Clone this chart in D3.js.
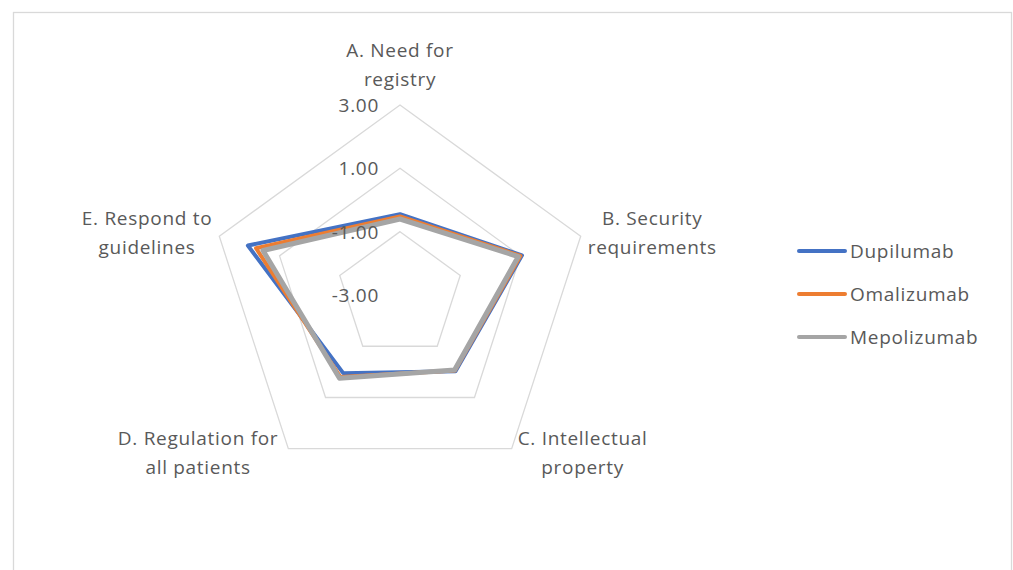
<!DOCTYPE html>
<html>
<head>
<meta charset="utf-8">
<script src="https://cdn.jsdelivr.net/npm/d3@7"></script>
<style>
  html, body { margin: 0; padding: 0; background: #fff; }
  svg text { font-family: "Open Sans", sans-serif; fill: #595959; letter-spacing: 0.7px; }
</style>
</head>
<body>
<svg id="chart" width="1013" height="570"></svg>
<script>
// ---- data ----
const categories = [
  ["A. Need for", "registry"],
  ["B. Security", "requirements"],
  ["C. Intellectual", "property"],
  ["D. Regulation for", "all patients"],
  ["E. Respond to", "guidelines"]
];
const seriesNames = ["Dupilumab", "Omalizumab", "Mepolizumab"];
const seriesColors = ["#4472C4", "#ED7D31", "#A5A5A5"];
const seriesWidths = [4, 4, 5];
const dupilumab   = [-0.45, 1.05, -0.02, 0.05, 2.05];
const omalizumab  = [-0.52, 1.00, -0.05, 0.20, 1.78];
const mepolizumab = [-0.60, 0.93, -0.07, 0.25, 1.55];
const tickValues = [-3, -1, 1, 3];
const tickLabels = ["-3.00", "-1.00", "1.00", "3.00"];

const seriesValues = [dupilumab, omalizumab, mepolizumab];

// ---- layout ----
const svg = d3.select("#chart");
const cx = 400, cy = 295, R = 190;
const r = d3.scaleLinear().domain([-3, 3]).range([0, R]);
const n = categories.length;
const angle = d3.scaleLinear().domain([0, n]).range([0, 2 * Math.PI]);
const pt = (i, v) => {
  const a = angle(i);
  return [cx + r(v) * Math.sin(a), cy - r(v) * Math.cos(a)];
};

// chart border
svg.append("rect")
  .attr("x", 13.5).attr("y", 12.5)
  .attr("width", 998).attr("height", 620)
  .attr("fill", "none").attr("stroke", "#d9d9d9").attr("stroke-width", 1.3);

// grid pentagons (skip center value)
const line = d3.line().curve(d3.curveLinearClosed);
svg.append("g").selectAll("path")
  .data(tickValues.filter(t => r(t) > 0))
  .join("path")
  .attr("d", t => line(d3.range(n).map(i => pt(i, t))))
  .attr("fill", "none")
  .attr("stroke", "#d9d9d9")
  .attr("stroke-width", 1.3);

// series
svg.append("g").selectAll("path")
  .data(seriesValues)
  .join("path")
  .attr("d", vals => line(vals.map((v, i) => pt(i, v))))
  .attr("fill", "none")
  .attr("stroke", (d, i) => seriesColors[i])
  .attr("stroke-width", (d, i) => seriesWidths[i])
  .attr("stroke-linejoin", "round");

// tick labels
svg.append("g").selectAll("text")
  .data(tickValues)
  .join("text")
  .attr("x", 379)
  .attr("y", t => cy - r(t))
  .attr("dy", "0.36em")
  .attr("text-anchor", "end")
  .style("font-size", "19px")
  .text((t, i) => tickLabels[i]);

// category labels
const lh = 29;
categories.forEach((lines, i) => {
  const [vx, vy] = pt(i, 3);
  const g = svg.append("g");
  const t = g.append("text").style("font-size", "19px").attr("text-anchor", "middle");
  const spans = lines.map((s, k) => t.append("tspan").attr("x", 0).attr("y", k * lh).attr("dy", "0.36em").text(s));
  const maxW = d3.max(spans, s => s.node().getComputedTextLength());
  let bx, by;
  if (i === 0) { bx = vx; by = vy - 26 - lh; }
  else if (i === 1) { bx = vx + 7 + maxW / 2; by = vy - 4 - lh / 2; }
  else if (i === 2) { bx = vx + 6 + maxW / 2; by = vy + 4 - lh / 2; }
  else if (i === 3) { bx = vx - 10 - maxW / 2; by = vy + 4 - lh / 2; }
  else { bx = vx - 7 - maxW / 2; by = vy - 4 - lh / 2; }
  g.attr("transform", `translate(${bx},${by})`);
});

// legend
const legend = svg.append("g");
const legendY = d3.scalePoint().domain(seriesNames).range([251, 337]);
seriesNames.forEach((name, i) => {
  const y = legendY(name);
  legend.append("line")
    .attr("x1", 799).attr("x2", 845).attr("y1", y).attr("y2", y)
    .attr("stroke", seriesColors[i]).attr("stroke-width", 4).attr("stroke-linecap", "round");
  legend.append("text")
    .attr("x", 850).attr("y", y).attr("dy", "0.36em")
    .style("font-size", "19px")
    .text(name);
});
</script>
</body>
</html>
